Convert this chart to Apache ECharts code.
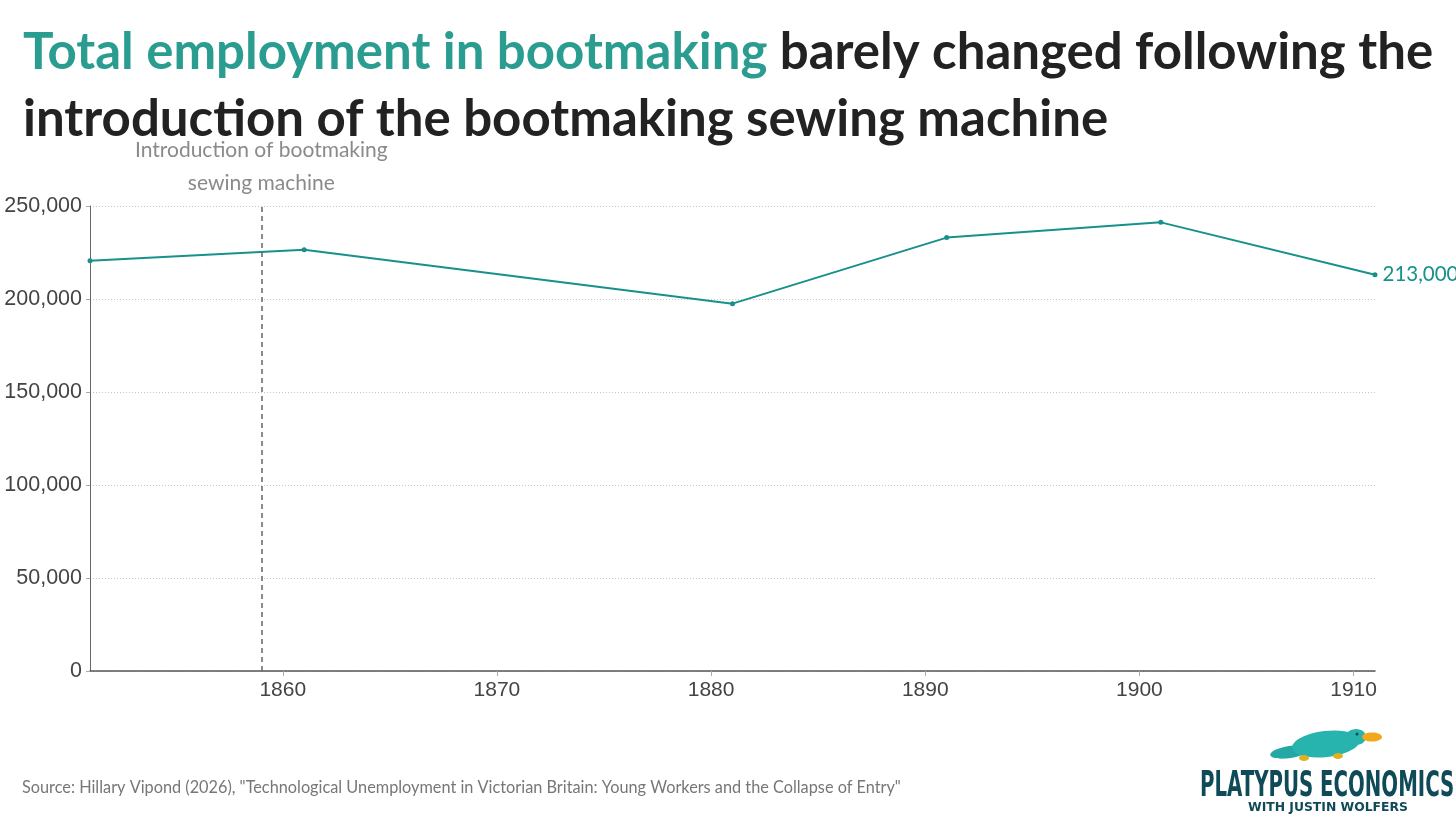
<!DOCTYPE html>
<html>
<head>
<meta charset="utf-8">
<script src="https://cdn.jsdelivr.net/npm/echarts@6/dist/echarts.min.js"></script>
<style>
  html, body { margin: 0; padding: 0; background: #fff; }
  #chart { width: 1456px; height: 819px; }
</style>
</head>
<body>
<div id="chart"></div>
<script>
// census years and total employment in bootmaking
var years = [1851, 1861, 1881, 1891, 1901, 1911];
var employment = [220500, 226500, 197500, 233000, 241200, 213000];
var xTicks = [1860, 1870, 1880, 1890, 1900, 1910];
var yTicks = [0, 50000, 100000, 150000, 200000, 250000];
var machineYear = 1859;

var teal = '#17918a';
var nolig = '\u200C'; // keeps Lato from joining "ti"

var chart = echarts.init(document.getElementById('chart'));

var points = years.map(function (y, i) { return [y, employment[i]]; });

function fmt(v) {
    return String(v).replace(/\B(?=(\d{3})+(?!\d))/g, ',');
}

var option = {
    animation: false,
    backgroundColor: '#fff',
    title: {
        left: 18,
        top: 14,
        text: '{a|Total employment in bootmaking}{b| barely changed following the}\n{b|introduc' + nolig + 'tion of the bootmaking sewing machine}',
        textStyle: {
            rich: {
                a: { fontFamily: 'Lato', fontWeight: 'bold', fontSize: 51, color: '#2a9d90', lineHeight: 67 },
                b: { fontFamily: 'Lato', fontWeight: 'bold', fontSize: 51, color: '#222222', lineHeight: 67 }
            }
        }
    },
    grid: { left: 90, right: 81, top: 206, bottom: 148, containLabel: false },
    xAxis: {
        type: 'value',
        min: years[0],
        max: years[years.length - 1],
        splitLine: { show: false },
        axisLine: { show: true, lineStyle: { color: '#555', width: 1.5 } },
        axisTick: { show: true, length: 5, lineStyle: { color: '#aaa' }, customValues: xTicks },
        axisLabel: {
            customValues: xTicks,
            formatter: function (v) { return String(v); },
            fontFamily: 'Liberation Sans',
            fontSize: 21,
            color: '#444',
            margin: 9
        }
    },
    yAxis: {
        type: 'value',
        min: 0,
        max: 250000,
        interval: 50000,
        axisLine: { show: true, lineStyle: { color: '#666', width: 1 } },
        axisTick: { show: true, length: 4, lineStyle: { color: '#aaa' } },
        splitLine: { show: true, lineStyle: { color: '#c8c8c8', type: [1, 2], width: 1 } },
        axisLabel: {
            formatter: function (v) { return fmt(v); },
            fontFamily: 'Liberation Sans',
            fontSize: 21.5,
            color: '#444',
            margin: 8
        }
    },
    series: [{
        type: 'line',
        data: points,
        symbol: 'circle',
        symbolSize: 5,
        lineStyle: { color: teal, width: 2 },
        itemStyle: { color: teal },
        label: {
            show: true,
            position: 'right',
            distance: 5,
            fontFamily: 'Lato',
            fontSize: 20.5,
            color: teal,
            formatter: function (p) {
                return p.dataIndex === years.length - 1 ? fmt(p.value[1]) : '';
            }
        },
        markLine: {
            silent: true,
            symbol: ['none', 'none'],
            lineStyle: { color: '#666', type: [5, 4], width: 1.5 },
            label: {
                show: true,
                position: 'end',
                distance: 6,
                formatter: 'Introduc' + nolig + 'tion of bootmaking\nsewing machine',
                fontFamily: 'Lato',
                fontSize: 21,
                lineHeight: 33,
                color: '#8a8a8a'
            },
            data: [{ xAxis: machineYear }]
        }
    }],
    graphic: [
        {
            type: 'text',
            left: 22,
            top: 780,
            style: {
                text: 'Source: Hillary Vipond (2026), "Technological Unemployment in Victorian Britain: Young Workers and the Collapse of Entry"',
                fontFamily: 'Lato',
                fontSize: 16.3,
                fill: '#777'
            }
        },
        // simple platypus mark
        {
            type: 'group',
            children: [
                { type: 'ellipse', shape: { cx: 1290, cy: 752, rx: 20, ry: 6 }, rotation: 0.15, originX: 1290, originY: 752, style: { fill: '#23a8a6' } },
                { type: 'ellipse', shape: { cx: 1326, cy: 744, rx: 34, ry: 13 }, rotation: 0.12, originX: 1326, originY: 744, style: { fill: '#27b3ae' } },
                { type: 'ellipse', shape: { cx: 1356, cy: 737, rx: 10, ry: 8 }, style: { fill: '#27b3ae' } },
                { type: 'ellipse', shape: { cx: 1372, cy: 737, rx: 10, ry: 4.5 }, style: { fill: '#f2a81d' } },
                { type: 'circle', shape: { cx: 1357, cy: 734, r: 1.5 }, style: { fill: '#0e4a57' } },
                { type: 'ellipse', shape: { cx: 1304, cy: 758, rx: 5, ry: 3 }, style: { fill: '#e0b020' } },
                { type: 'ellipse', shape: { cx: 1338, cy: 756, rx: 5, ry: 3 }, style: { fill: '#e0b020' } }
            ]
        },
        {
            type: 'text',
            left: 1200,
            top: 769,
            scaleX: 0.61,
            style: {
                text: 'PLATYPUS ECONOMICS',
                fontFamily: 'DejaVu Sans Condensed',
                fontWeight: 'bold',
                fontSize: 36,
                fill: '#0e4a57'
            }
        },
        {
            type: 'text',
            left: 1248,
            top: 802,
            scaleX: 1.03,
            style: {
                text: 'WITH JUSTIN WOLFERS',
                fontFamily: 'DejaVu Sans',
                fontWeight: 'bold',
                fontSize: 12,
                fill: '#0e4a57'
            }
        }
    ]
};

chart.setOption(option);
</script>
</body>
</html>
